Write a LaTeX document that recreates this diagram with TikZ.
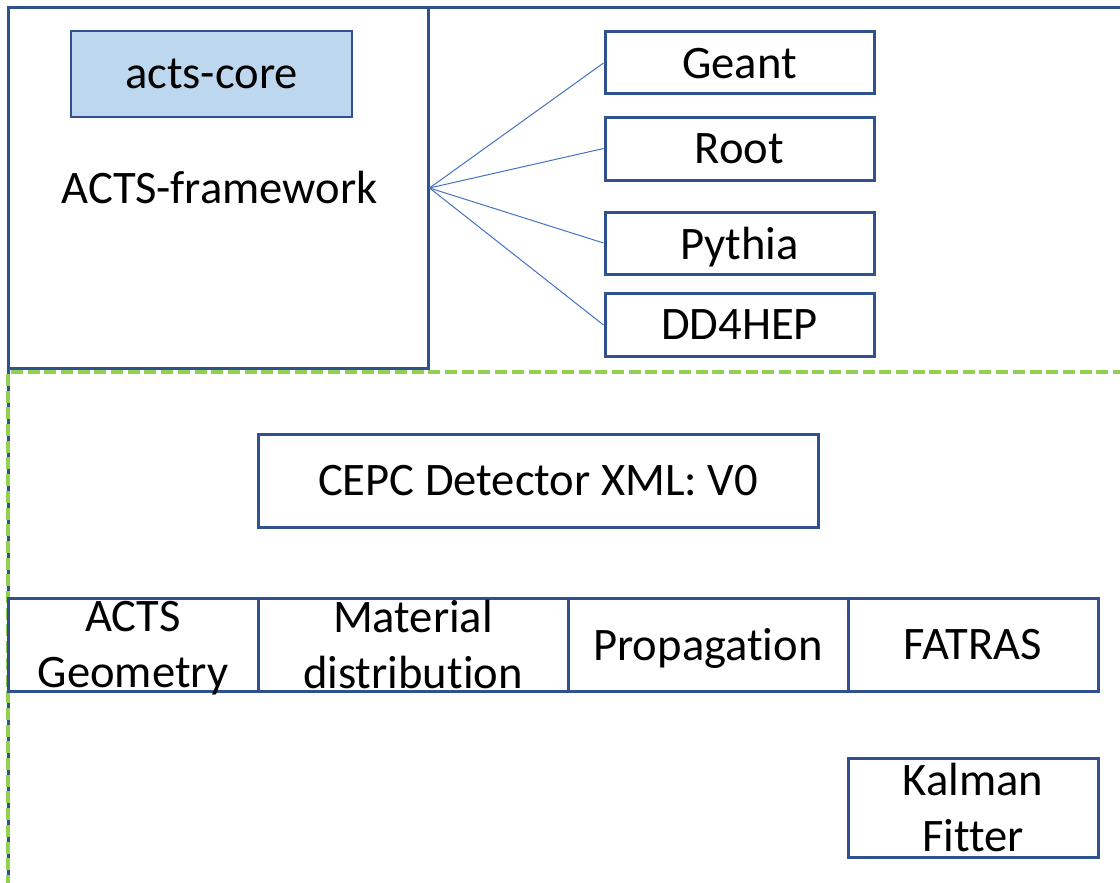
\documentclass[tikz,border=0pt]{standalone}
\usepackage{fontspec}
\setmainfont{Carlito}[Ligatures={NoCommon,NoContextual,NoRare}]
\definecolor{boxblue}{RGB}{47,82,143}
\definecolor{lineblue}{RGB}{68,114,196}
\definecolor{corefill}{RGB}{189,215,238}
\definecolor{dashgreen}{RGB}{146,208,80}
\begin{document}
\begin{tikzpicture}[x=1pt,y=-1pt,
  box/.style={draw=boxblue, line width=3pt, inner sep=0pt, align=center,
    font=\fontsize{46.6pt}{56pt}\selectfont, text=black, text depth=0pt},
  link/.style={draw=lineblue, line width=1pt}]
\useasboundingbox (0,0) rectangle (1120,883);
% outer frame (continues off the page)
\draw[boxblue, line width=3pt] (8,900) -- (8,8) -- (1130,8);
% ACTS-framework box
\node[box, minimum width=420pt, minimum height=360pt] (fw) at (218,188) {};
\node[font=\fontsize{46.6pt}{56pt}\selectfont, inner sep=0pt, anchor=base] (fwlabel) at (219.5,203) {ACTS-framework};
\node[box, fill=corefill, line width=2.5pt, minimum width=281pt, minimum height=86pt] (core) at (211.5,74) {acts-core};
% externals
\node[box, minimum width=269pt, minimum height=62pt] (geant) at (739.5,63) {Geant};
\node[box, minimum width=269pt, minimum height=63pt] (root) at (739.5,148.5) {Root};
\node[box, minimum width=269pt, minimum height=62pt] (pythia) at (739.5,243) {Pythia};
\node[box, minimum width=269pt, minimum height=63pt] (dd4hep) at (739.5,325) {DD4HEP};
\foreach \t in {geant,root,pythia,dd4hep}
  \draw[link] (fw.east) -- (\t.west);
% green dashed frame
\draw[dashgreen, line width=4pt, dash pattern=on 12pt off 4.7pt] (1125,372) -- (8,372) -- (8,890);
% detector
\node[box, minimum width=560pt, minimum height=93pt] (cepc) at (538,480.5) {CEPC Detector XML: V0};
% row
\node[box, minimum width=250pt, minimum height=93pt] (geo) at (133,644.5) {ACTS\\Geometry};
\node[box, minimum width=310pt, minimum height=93pt] (mat) at (413,644.5) {Material\\distribution};
\node[box, minimum width=280pt, minimum height=93pt] (prop) at (708,644.5) {Propagation};
\node[box, minimum width=250pt, minimum height=93pt] (fatras) at (973,644.5) {FATRAS};
\node[box, minimum width=250pt, minimum height=99pt] (kalman) at (973,807.5) {Kalman\\Fitter};
\end{tikzpicture}
\end{document}
